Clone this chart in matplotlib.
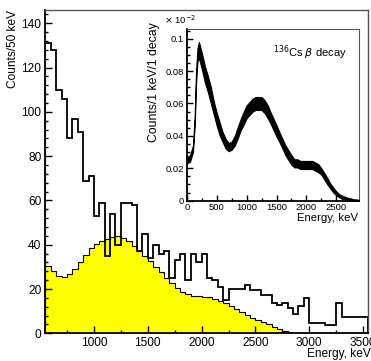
import numpy as np
import matplotlib.pyplot as plt
from matplotlib.ticker import MultipleLocator

plt.rcParams['font.family'] = ['Liberation Sans', 'DejaVu Sans']

# Histogramme (50 keV bins, 550..3550 keV)
bin_edges = np.arange(550, 3551, 50)
measured_counts = [131, 128, 110, 106, 88, 97, 91, 69, 71, 53,
                   59, 35, 54, 40, 59, 59, 58, 37, 45, 34,
                   40, 36, 37, 25, 33, 36, 24, 36, 32, 36,
                   25, 24, 21, 15, 20, 20, 20, 22, 19.5, 19.5,
                   17.3, 17.3, 13.8, 12.8, 13.8, 11.3, 8.7, 12.3, 15.8, 4.5,
                   4.5, 4.5, 3.8, 3.8, 13.8, 7.5, 7.5, 7.5, 7.5, 7.5]
simulated_counts = [30.5, 28.1, 25.9, 25.3, 26.8, 29.0, 32.0, 35.3, 38.4, 40.3,
                    41.7, 42.6, 43.6, 44.1, 42.9, 41.6, 39.5, 37.3, 35.0, 32.5,
                    30.0, 27.5, 25.0, 22.5, 20.5, 18.8, 17.6, 17.0, 16.8, 16.6,
                    16.2, 15.5, 14.8, 13.8, 12.5, 11.0, 9.5, 8.3, 7.0, 6.0,
                    5.0, 4.0, 3.0, 2.0, 1.0, 0.4, 0, 0, 0, 0,
                    0, 0, 0, 0, 0, 0, 0, 0, 0, 0]

# Inset: 136Cs beta decay spectrum (units of 1e-2)
inset_energy = [0, 50, 100, 130, 150, 175, 200, 250, 300, 350, 400, 450, 500, 550,
                600, 650, 700, 750, 800, 850, 900, 950, 1000, 1050, 1100, 1150,
                1200, 1250, 1300, 1350, 1400, 1450, 1500, 1550, 1600, 1650, 1700,
                1750, 1800, 1850, 1900, 2000, 2100, 2200, 2250, 2300, 2350, 2400,
                2450, 2500, 2550, 2600, 2700, 2800, 2900]
inset_center = [0.025, 0.026, 0.032, 0.050, 0.075, 0.090, 0.093, 0.086, 0.078, 0.072,
                0.065, 0.057, 0.050, 0.044, 0.039, 0.035, 0.033, 0.034, 0.037, 0.042,
                0.047, 0.051, 0.055, 0.057, 0.059, 0.060, 0.060, 0.060, 0.058, 0.055,
                0.051, 0.047, 0.043, 0.039, 0.035, 0.031, 0.028, 0.025, 0.023, 0.023,
                0.022, 0.022, 0.022, 0.020, 0.018, 0.015, 0.012, 0.009, 0.0065, 0.0045,
                0.003, 0.002, 0.0008, 0.0002, 0.0]
inset_spread = [0.002, 0.002, 0.002, 0.003, 0.004, 0.004, 0.005, 0.005, 0.005, 0.005,
                0.005, 0.004, 0.004, 0.004, 0.003, 0.003, 0.0025, 0.0025, 0.003, 0.0035,
                0.0035, 0.004, 0.004, 0.004, 0.004, 0.004, 0.004, 0.004, 0.004, 0.004,
                0.0035, 0.0035, 0.0035, 0.003, 0.003, 0.003, 0.003, 0.003, 0.0025, 0.0025,
                0.0025, 0.0025, 0.0025, 0.0025, 0.002, 0.002, 0.002, 0.0015, 0.0015, 0.0012,
                0.001, 0.001, 0.0008, 0.0006, 0.0005]

fig = plt.figure(figsize=(3.71, 3.61), dpi=100)
ax = fig.add_axes([0.1226, 0.0767, 0.8706, 0.8956])

# Hauptplot
ax.stairs(simulated_counts, bin_edges, fill=True, color='#ffff00', zorder=1)
ax.stairs(simulated_counts, bin_edges, color='black', lw=0.8, zorder=2)
ax.stairs(measured_counts, bin_edges, color='black', lw=1.3, zorder=3)

ax.set_xlim(550, 3550)
ax.set_ylim(0, 146)
ax.xaxis.set_major_locator(MultipleLocator(500))
ax.xaxis.set_minor_locator(MultipleLocator(250))
ax.yaxis.set_major_locator(MultipleLocator(20))
ax.yaxis.set_minor_locator(MultipleLocator(4))
ax.tick_params(which='both', direction='in', top=False, right=False, labelsize=8.6, width=1)
ax.tick_params(which='major', length=5, pad=3)
ax.tick_params(which='minor', length=2.5)
for side in ['left', 'bottom']:
    ax.spines[side].set_linewidth(1.3)
for side in ['top', 'right']:
    ax.spines[side].set_color('#555555')
    ax.spines[side].set_linewidth(1.0)

fig.text(0.018, 0.972, 'Counts/50 keV', rotation=90, ha='left', va='top', fontsize=8.6)
fig.text(0.998, 0.019, 'Energy, keV', ha='right', va='center', fontsize=8.6)

# Inset
axin = fig.add_axes([0.504, 0.4443, 0.4636, 0.4753])
lower = np.array(inset_center) - np.array(inset_spread)
upper = np.array(inset_center) + np.array(inset_spread)
axin.fill_between(inset_energy, np.clip(lower, 0, None), upper, color='black', lw=0.8)
axin.set_xlim(0, 2880)
axin.set_ylim(0, 0.106)
axin.xaxis.set_major_locator(MultipleLocator(500))
axin.xaxis.set_minor_locator(MultipleLocator(250))
axin.yaxis.set_minor_locator(MultipleLocator(0.005))
axin.set_yticks([0, 0.02, 0.04, 0.06, 0.08, 0.1])
axin.set_yticklabels(['0', '0.02', '0.04', '0.06', '0.08', '0.1'])
axin.tick_params(which='both', direction='in', top=False, right=False, labelsize=6.8, width=1)
axin.tick_params(which='major', length=4, pad=2)
axin.tick_params(which='minor', length=2)
for side in ['left', 'bottom']:
    axin.spines[side].set_linewidth(1.3)
for side in ['top', 'right']:
    axin.spines[side].set_color('#555555')

axin.text(-0.155, 1.04, 'Counts/1 keV/1 decay', transform=axin.transAxes,
          rotation=90, ha='right', va='top', fontsize=8.8)
axin.text(0.995, -0.075, 'Energy, keV', transform=axin.transAxes,
          ha='right', va='top', fontsize=8.2)
axin.text(-0.135, 1.02, r'$\times$ 10$^{-2}$', transform=axin.transAxes,
          ha='left', va='bottom', fontsize=6.8)
axin.text(0.5, 0.86, r'$^{136}$Cs $\beta$ decay', transform=axin.transAxes,
          ha='left', va='center', fontsize=8)

fig.savefig('out.png', dpi=100)
